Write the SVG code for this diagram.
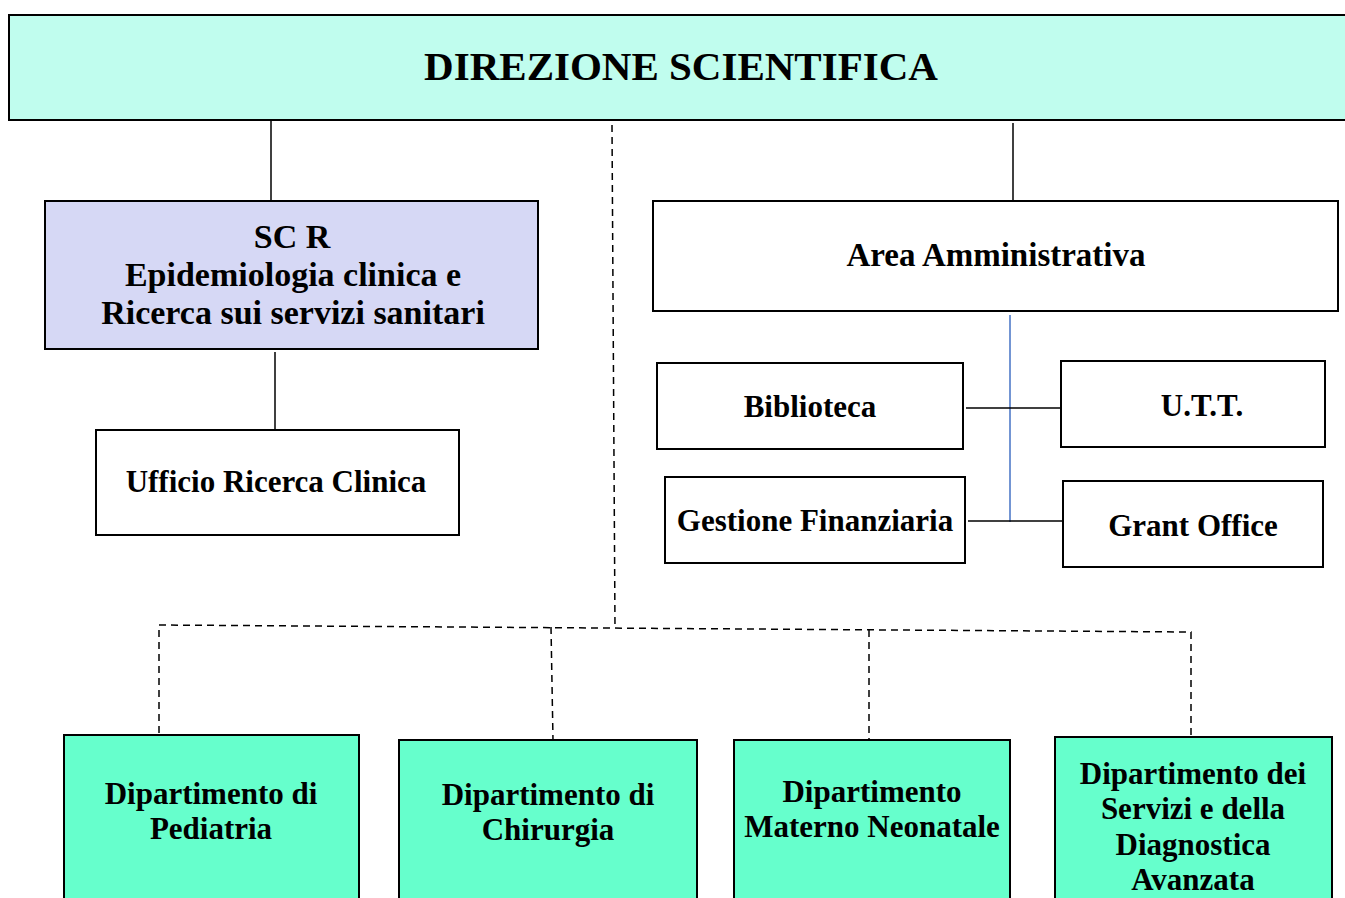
<svg xmlns="http://www.w3.org/2000/svg" width="1345" height="898" viewBox="0 0 1345 898">
<style>
.box{stroke:#000;stroke-width:2}
.t{font-family:"Liberation Serif","DejaVu Serif",serif;font-weight:bold;fill:#000;text-anchor:middle;font-size:31px}
.ln{stroke:#000;stroke-width:1.5;fill:none}
.dash{stroke:#000;stroke-width:1.5;fill:none;stroke-dasharray:7 5}
</style>
<rect width="1345" height="898" fill="#fff"/>
<g id="connectors">
<line class="ln" x1="271" y1="120" x2="271" y2="201"/>
<line class="ln" x1="275" y1="352" x2="275" y2="430"/>
<line class="ln" x1="1013" y1="123" x2="1013" y2="207"/>
<line x1="1010" y1="315" x2="1010" y2="522" stroke="#4472c4" stroke-width="1.5"/>
<line class="ln" x1="966" y1="408" x2="1063" y2="408"/>
<line class="ln" x1="968" y1="521" x2="1065" y2="521"/>
<polyline class="dash" points="612,125 615,628"/>
<polyline class="dash" points="159,733 159,625 1191,632 1191,736"/>
<line class="dash" x1="551" y1="627" x2="553" y2="740"/>
<line class="dash" x1="869" y1="630" x2="869" y2="740"/>
</g>
<g id="direzione">
<rect class="box" x="9" y="15" width="1345" height="105" fill="#c0fdee"/>
<text class="t" x="681" y="80" style="font-size:41px">DIREZIONE SCIENTIFICA</text>
</g>
<g id="scr">
<rect class="box" x="45" y="201" width="493" height="148" fill="#d6d8f5"/>
<text class="t" x="292" y="248" style="font-size:34px">SC R</text>
<text class="t" x="293" y="286" style="font-size:34px">Epidemiologia clinica e</text>
<text class="t" x="293" y="324" style="font-size:34px">Ricerca sui servizi sanitari</text>
</g>
<g id="ufficio">
<rect class="box" x="96" y="430" width="363" height="105" fill="#fff"/>
<text class="t" x="276" y="492">Ufficio Ricerca Clinica</text>
</g>
<g id="area">
<rect class="box" x="653" y="201" width="685" height="110" fill="#fff"/>
<text class="t" x="996" y="266" style="font-size:33px">Area Amministrativa</text>
</g>
<g id="biblioteca">
<rect class="box" x="657" y="363" width="306" height="86" fill="#fff"/>
<text class="t" x="810" y="417">Biblioteca</text>
</g>
<g id="utt">
<rect class="box" x="1061" y="361" width="264" height="86" fill="#fff"/>
<text class="t" x="1202" y="416">U.T.T.</text>
</g>
<g id="gestione">
<rect class="box" x="665" y="477" width="300" height="86" fill="#fff"/>
<text class="t" x="815" y="531">Gestione Finanziaria</text>
</g>
<g id="grant">
<rect class="box" x="1063" y="481" width="260" height="86" fill="#fff"/>
<text class="t" x="1193" y="536">Grant Office</text>
</g>
<g id="pediatria">
<rect class="box" x="64" y="735" width="295" height="180" fill="#66ffcc"/>
<text class="t" x="211" y="804">Dipartimento di</text>
<text class="t" x="211" y="839">Pediatria</text>
</g>
<g id="chirurgia">
<rect class="box" x="399" y="740" width="298" height="180" fill="#66ffcc"/>
<text class="t" x="548" y="805">Dipartimento di</text>
<text class="t" x="548" y="840">Chirurgia</text>
</g>
<g id="materno">
<rect class="box" x="734" y="740" width="276" height="180" fill="#66ffcc"/>
<text class="t" x="872" y="802">Dipartimento</text>
<text class="t" x="872" y="837">Materno Neonatale</text>
</g>
<g id="servizi">
<rect class="box" x="1055" y="737" width="277" height="180" fill="#66ffcc"/>
<text class="t" x="1193" y="784">Dipartimento dei</text>
<text class="t" x="1193" y="819">Servizi e della</text>
<text class="t" x="1193" y="855">Diagnostica</text>
<text class="t" x="1193" y="890">Avanzata</text>
</g>
</svg>
